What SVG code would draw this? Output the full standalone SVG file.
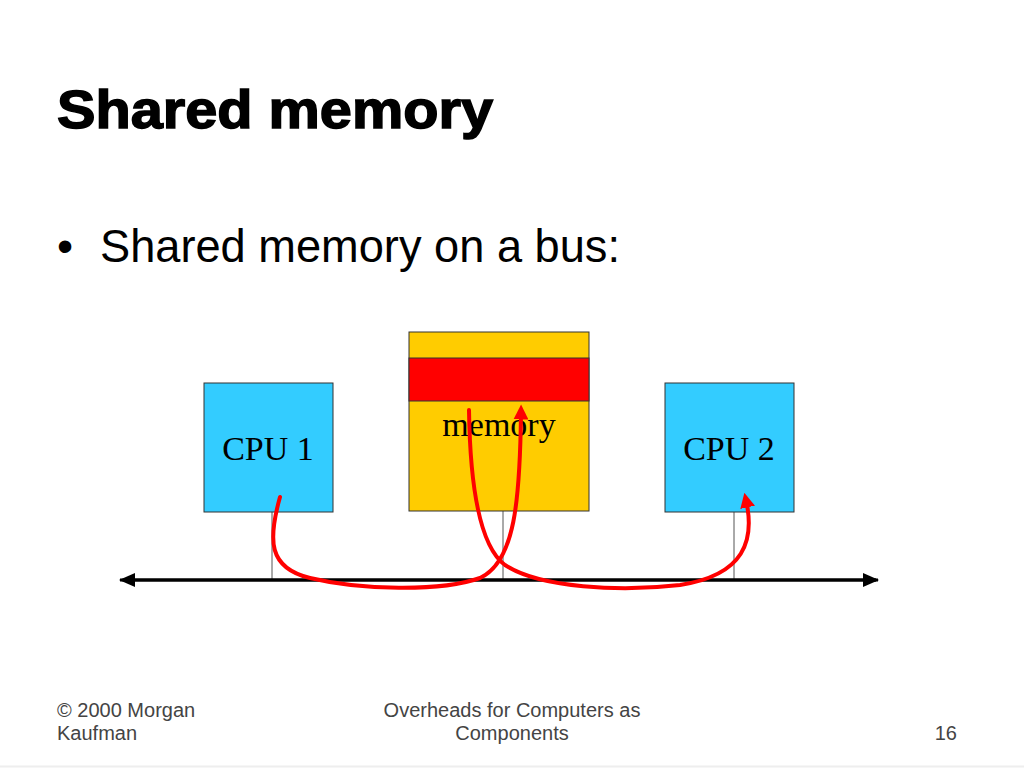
<svg xmlns="http://www.w3.org/2000/svg" width="1024" height="768" viewBox="0 0 1024 768">
<style>
.title{font-family:"Liberation Sans",Arial,sans-serif;font-weight:bold;font-size:54px;fill:#000;stroke:#000;stroke-width:1.5}
.bullet{font-family:"Liberation Sans",Arial,sans-serif;font-size:46px;fill:#000}
.lbl{font-family:"Liberation Serif","Times New Roman",serif;font-size:34px;fill:#000}
.foot{font-family:"Liberation Sans",Arial,sans-serif;font-size:20px;fill:#444}
.cpu{fill:#33CCFF;stroke:#333;stroke-width:1}
.stub{stroke:#555;stroke-width:1}
.red{fill:none;stroke:#F00;stroke-width:4;stroke-linecap:round}
</style>
<defs>
<marker id="ah" markerWidth="16" markerHeight="14" refX="15" refY="7" orient="auto" markerUnits="userSpaceOnUse">
<path d="M0,0 L16,7 L0,14 z" fill="#000"/>
</marker>
<marker id="rh" markerWidth="15" markerHeight="15" refX="4" refY="4" orient="auto" markerUnits="userSpaceOnUse" viewBox="0 0 8 8">
<path d="M0,0 L8,4 L0,8 z" fill="#F00"/>
</marker>
</defs>
<rect width="1024" height="768" fill="#fff"/>
<text class="title" x="57" y="128" textLength="436" lengthAdjust="spacingAndGlyphs">Shared memory</text>
<text class="bullet" x="57" y="262">•</text>
<text class="bullet" x="100" y="262" textLength="520" lengthAdjust="spacingAndGlyphs">Shared memory on a bus:</text>

<g id="connectors">
<line class="stub" x1="272" y1="512" x2="272" y2="580"/>
<line class="stub" x1="503" y1="511" x2="503" y2="580"/>
<line class="stub" x1="734" y1="512" x2="734" y2="580"/>
<line x1="124" y1="580" x2="878" y2="580" stroke="#000" stroke-width="3" marker-end="url(#ah)"/>
<line x1="876" y1="580" x2="120" y2="580" stroke="#000" stroke-width="3" marker-end="url(#ah)"/>
</g>

<g id="cpu1">
<rect class="cpu" x="204" y="383" width="129" height="129"/>
<text class="lbl" x="268" y="460" text-anchor="middle">CPU 1</text>
</g>
<g id="memory">
<rect x="409" y="332" width="180" height="179" fill="#FFCC00" stroke="#333" stroke-width="1"/>
<rect x="409" y="358" width="180" height="43" fill="#F00" stroke="#333" stroke-width="1"/>
<text class="lbl" x="499" y="436" text-anchor="middle">memory</text>
</g>
<g id="cpu2">
<rect class="cpu" x="665" y="383" width="129" height="129"/>
<text class="lbl" x="729" y="460" text-anchor="middle">CPU 2</text>
</g>

<g id="flows">
<path class="red" d="M280,497 C268,540 268,568 310,578 C360,590 440,592 480,578 C515,562 520,500 521,412" marker-end="url(#rh)"/>
<path class="red" d="M469,410 C470,480 478,545 505,565 C540,588 620,592 680,585 C745,575 755,540 746,500" marker-end="url(#rh)"/>
</g>

<text class="foot" x="57" y="717">© 2000 Morgan</text>
<text class="foot" x="57" y="740">Kaufman</text>
<text class="foot" x="512" y="717" text-anchor="middle">Overheads for Computers as</text>
<text class="foot" x="512" y="740" text-anchor="middle">Components</text>
<text class="foot" x="957" y="740" text-anchor="end">16</text>
<line x1="0" y1="766.5" x2="1024" y2="766.5" stroke="#eee" stroke-width="2"/>
</svg>
